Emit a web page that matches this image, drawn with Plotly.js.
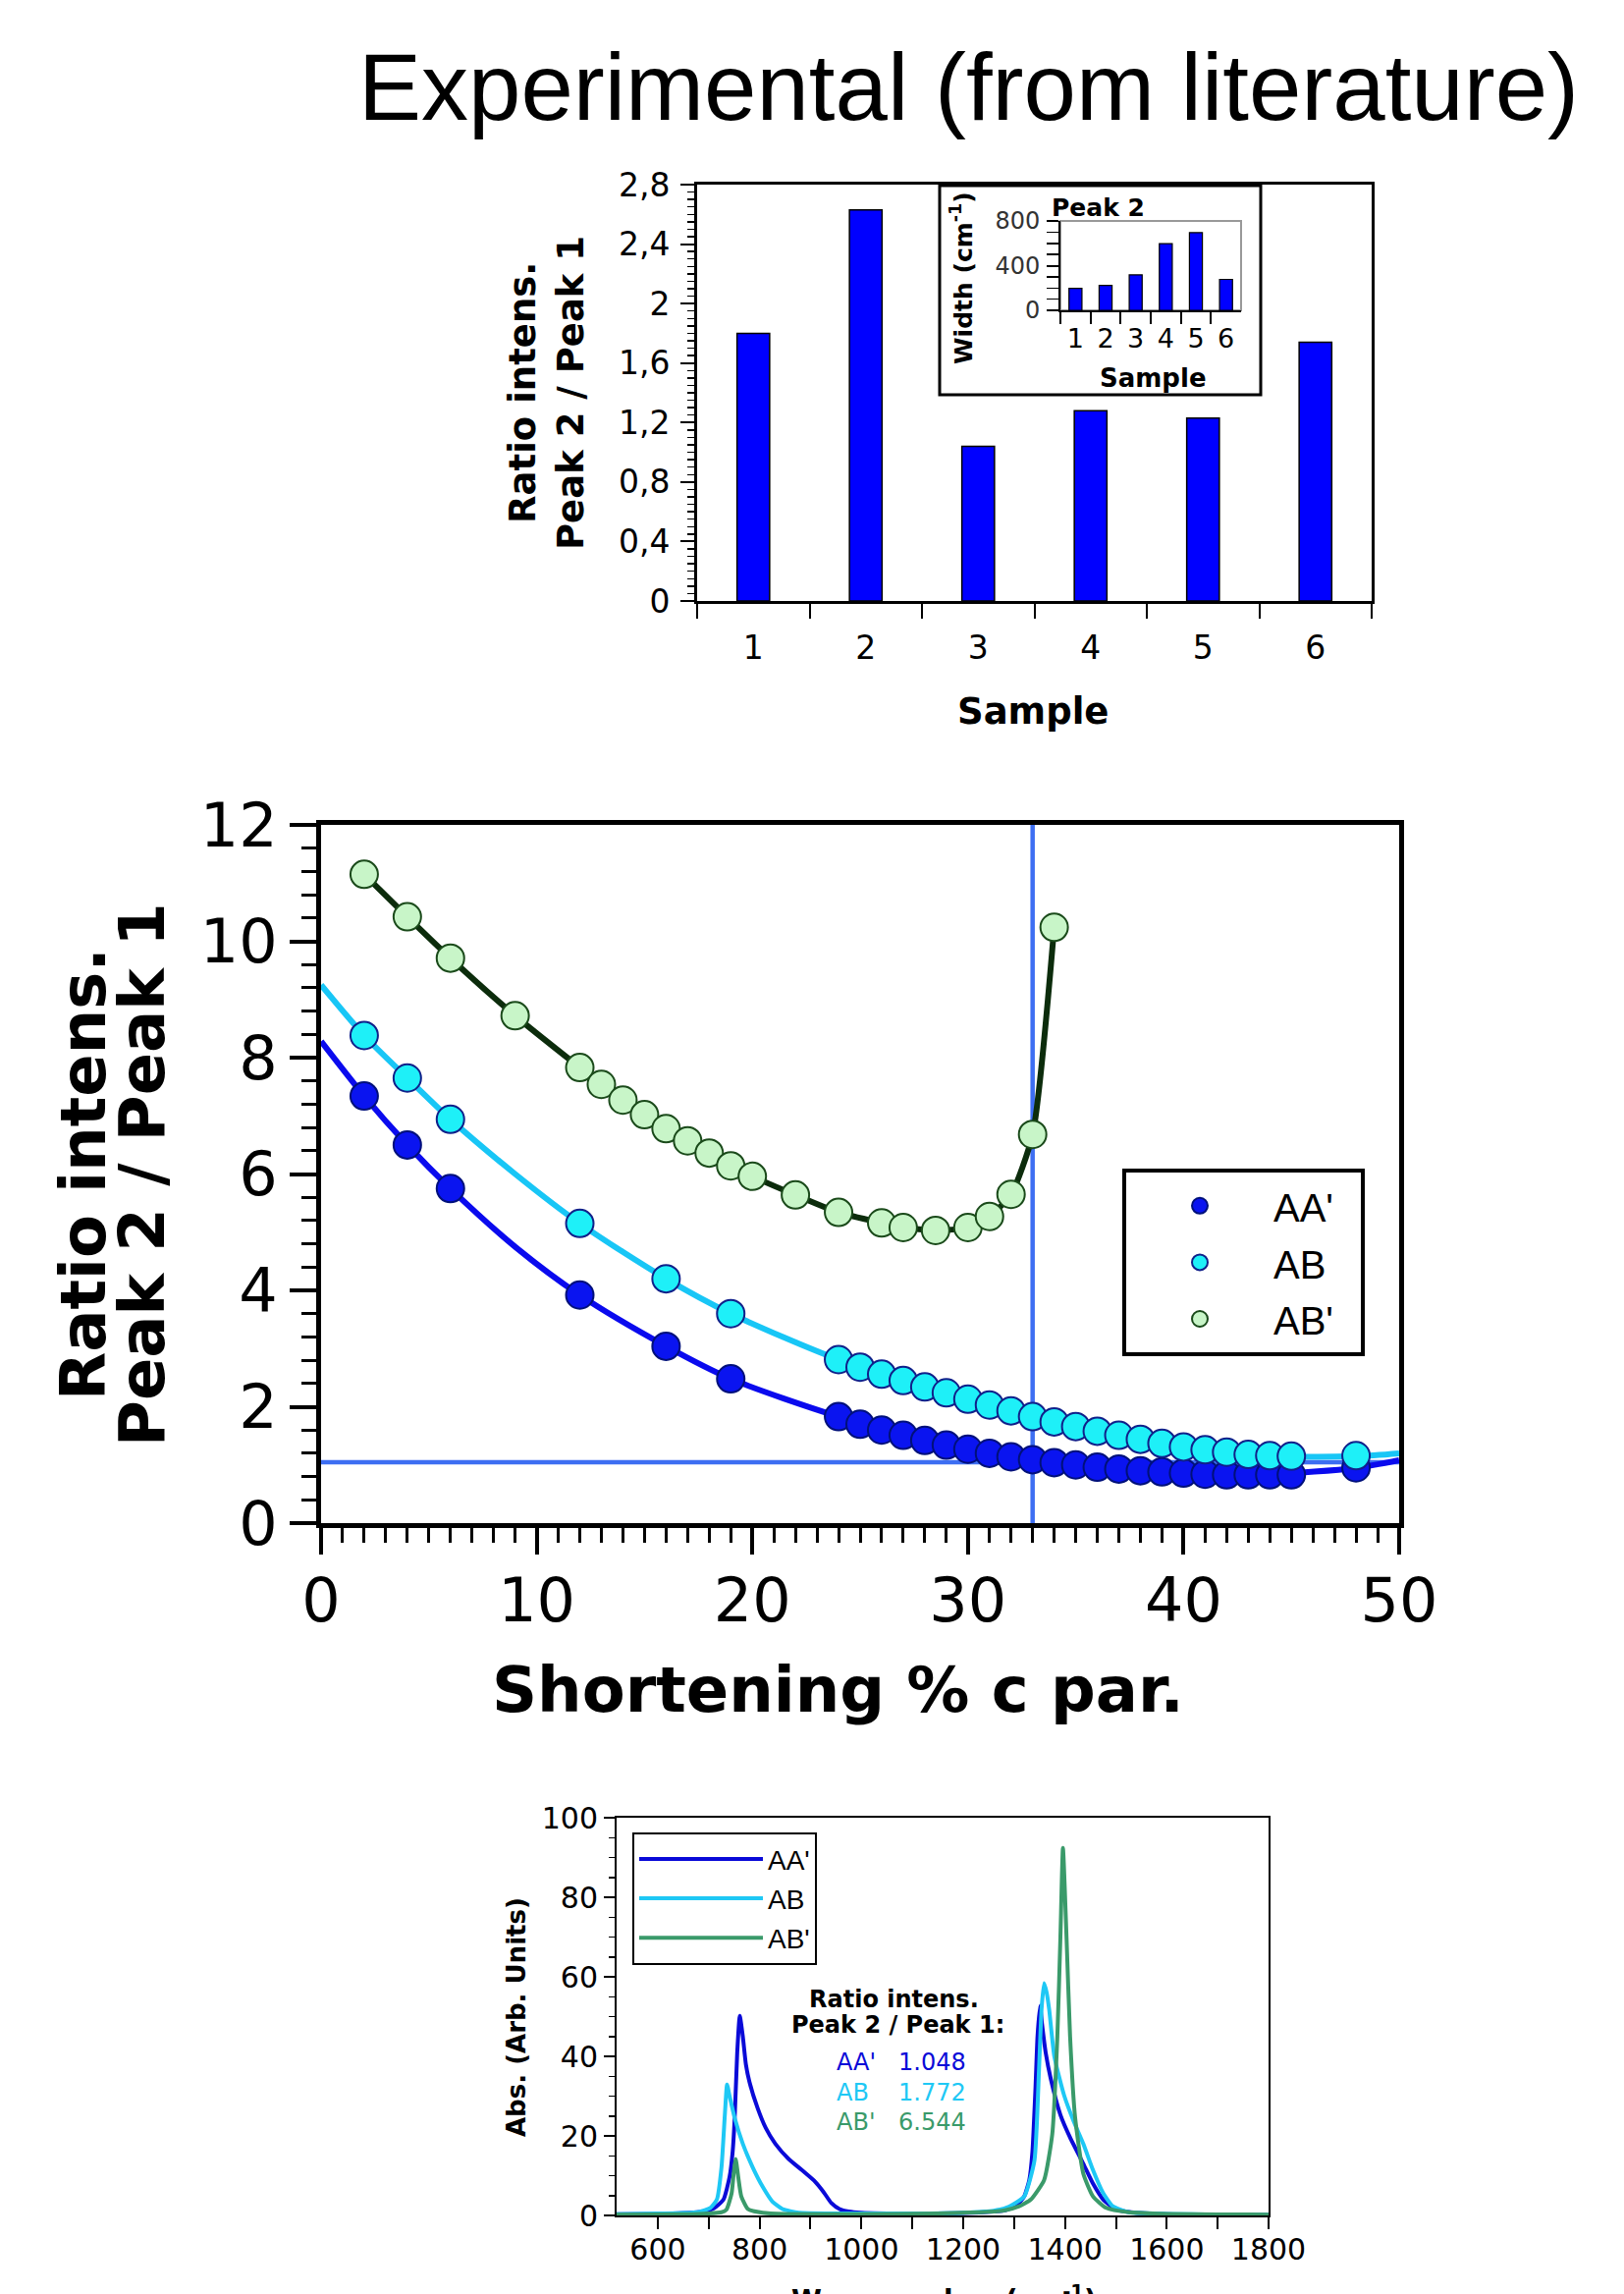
<!DOCTYPE html>
<html><head><meta charset="utf-8">
<script src="https://cdn.plot.ly/plotly-3.0.1.min.js"></script>
<style>html,body{margin:0;padding:0;background:#fff}</style>
</head><body><div id="chart" style="width:1654px;height:2336px"></div>
<script>
// ---------- Top: bar chart (ratio per sample) ----------
const samples = ['1','2','3','4','5','6'];
const ratioPeak2Peak1 = [1.80, 2.63, 1.04, 1.28, 1.23, 1.74];
// ---------- Inset: width of peak 2 ----------
const widthPeak2 = [196, 223, 317, 597, 695, 277];

// ---------- Middle: ratio vs shortening ----------
const aaX = [2,4,6,12,16,19,24,25,26,27,28,29,30,31,32,33,34,35,36,37,38,39,40,41,42,43,44,45,48];
const aaY = [7.34,6.50,5.75,3.92,3.04,2.48,1.83,1.70,1.60,1.51,1.42,1.34,1.27,1.20,1.14,1.09,1.04,1.00,0.96,0.93,0.90,0.88,0.86,0.84,0.83,0.83,0.83,0.83,0.95];
const abX = [2,4,6,12,16,19,24,25,26,27,28,29,30,31,32,33,34,35,36,37,38,39,40,41,42,43,44,45,48];
const abY = [8.38,7.65,6.94,5.15,4.20,3.60,2.81,2.68,2.56,2.45,2.34,2.24,2.13,2.03,1.93,1.83,1.74,1.66,1.58,1.51,1.44,1.37,1.31,1.26,1.22,1.18,1.16,1.15,1.16];
const abpX = [2,4,6,9,12,13,14,15,16,17,18,19,20,22,24,26,27,28.5,30,31,32,33,34];
const abpY = [11.15,10.42,9.71,8.72,7.83,7.54,7.27,7.02,6.78,6.57,6.36,6.14,5.96,5.64,5.34,5.16,5.08,5.03,5.08,5.27,5.65,6.68,10.24];
// fitted curves
const aaFitX = [0,2,4,6,9,12,16,19,24,28,32,36,40,44,48,50];
const aaFitY = [8.28,7.34,6.50,5.75,4.75,3.92,3.04,2.48,1.83,1.42,1.14,0.96,0.86,0.84,0.95,1.08];
const abFitX = [0,2,4,6,9,12,16,19,24,28,32,36,40,44,48,50];
const abFitY = [9.25,8.38,7.65,6.94,6.00,5.15,4.20,3.60,2.81,2.34,1.93,1.58,1.31,1.16,1.15,1.20];
const expRatioAA = 1.048;
const bestShortening = 33;

// ---------- Bottom: spectra ----------
const specAAx = [519,600,650,690,710,729,741,747,751,756,761,767,773,780,796,812,831,857,883,909,925,941,957,975,1000,1100,1200,1260,1282,1305,1320,1330,1336,1342,1346,1351,1355,1362,1372,1391,1410,1436,1455,1475,1500,1530,1600,1700,1800];
const specAAy = [0.3,0.4,0.6,1.0,1.8,4.0,9.7,16,24.5,41,50.2,45,38,33.6,27,22,18,14.2,11.4,8.5,6.0,3.1,1.6,1.0,0.7,0.5,0.6,1.0,1.3,2.5,4.8,9,16,32,45,52.7,48,41,34.4,25.3,19.6,13,8,4,1.5,0.8,0.3,0.15,0.1];
const specABx = [519,600,650,681,703,716,725,732,736,741,751,767,786,806,825,845,877,950,1100,1200,1260,1290,1320,1340,1349,1354,1359,1364,1369,1379,1398,1417,1436,1455,1475,1494,1526,1600,1700,1800];
const specABy = [0.3,0.5,0.6,0.9,1.9,4.0,12,26,32.9,30,24.5,18,12.2,7.2,3.5,1.6,0.7,0.5,0.5,0.7,1.2,2.2,4.8,13.8,36.9,52,58.4,56,51.7,40,30.3,23.7,18,11.4,5.6,2.3,0.8,0.4,0.2,0.15];
const specABpx = [519,650,700,725,735,745,749,753,758,764,777,806,850,1000,1150,1250,1282,1310,1333,1359,1375,1385,1391,1396,1403,1410,1420,1436,1455,1481,1526,1600,1700,1800];
const specABpy = [0.2,0.3,0.5,0.8,1.5,5.6,10.5,14.2,9.7,4.8,1.6,0.7,0.4,0.3,0.5,0.9,1.3,2.3,4.0,8.9,20.4,45,70,92.4,70,45,24.5,10.5,4.8,1.9,0.8,0.4,0.25,0.2];
const ratioLabels = ["AA'", "AB", "AB'"];
const ratioValues = ["1.048", "1.772", "6.544"];

const seriesNames = ["AA'", "AB", "AB'"];
const lineColors = ['#0a0aee', '#18c6f6', '#0c2c0c'];
const specColors = ['#0a0ad8', '#1ec8f5', '#3a9a6a'];

const W = 1654, H = 2336;
const px = v => v / W;
const py = v => 1 - v / H;

const traces = [];
// top bars
traces.push({type:'bar', x:samples, y:ratioPeak2Peak1, xaxis:'x', yaxis:'y', width:0.29,
  marker:{color:'#0000ff', line:{color:'#000', width:1.5}}, showlegend:false, hoverinfo:'x+y'});
// middle fitted lines
traces.push({type:'scatter', mode:'lines', x:aaFitX, y:aaFitY, xaxis:'x2', yaxis:'y2',
  line:{color:lineColors[0], width:6, shape:'spline', smoothing:0.8}, showlegend:false});
traces.push({type:'scatter', mode:'lines', x:abFitX, y:abFitY, xaxis:'x2', yaxis:'y2',
  line:{color:lineColors[1], width:6, shape:'spline', smoothing:0.8}, showlegend:false});
traces.push({type:'scatter', mode:'lines', x:abpX, y:abpY, xaxis:'x2', yaxis:'y2',
  line:{color:lineColors[2], width:6, shape:'spline', smoothing:0.6}, showlegend:false});
// middle markers
const mkStyles = [
  {color:'#0a14f0', line:{color:'#00107a', width:2}},
  {color:'#1ef0f8', line:{color:'#10208a', width:2}},
  {color:'#c8f5c8', line:{color:'#1a4a1a', width:2}}
];
const mX = [aaX, abX, abpX], mY = [aaY, abY, abpY];
for (let i = 0; i < 3; i++) {
  traces.push({type:'scatter', mode:'markers', x:mX[i], y:mY[i], xaxis:'x2', yaxis:'y2',
    name:'<span style="font-size:40px">' + seriesNames[i] + '&nbsp;&nbsp;</span>',
    marker:Object.assign({size:28, symbol:'circle'}, mkStyles[i]), legend:'legend'});
}
// bottom spectra
const sX = [specAAx, specABx, specABpx], sY = [specAAy, specABy, specABpy];
for (let i = 0; i < 3; i++) {
  traces.push({type:'scatter', mode:'lines', x:sX[i], y:sY[i], xaxis:'x3', yaxis:'y3',
    name:'<span style="font-size:28px">' + seriesNames[i] + '</span>',
    line:{color:specColors[i], width:4, shape:'spline', smoothing:0.5}, legend:'legend2'});
}
// inset bars
traces.push({type:'bar', x:samples, y:widthPeak2, xaxis:'x4', yaxis:'y4', width:0.43,
  marker:{color:'#0000ff', line:{color:'#000', width:1.2}}, showlegend:false});

const baseAxis = {showgrid:false, zeroline:false, showline:true, linecolor:'#000', tickcolor:'#000'};

const annotations = [];
function ann(text, x, y, size, opts) {
  annotations.push(Object.assign({text:text, x:px(x), y:py(y), xref:'paper', yref:'paper',
    showarrow:false, xanchor:'center', yanchor:'middle',
    font:{family:'DejaVu Sans', size:size, color:'#000'}}, opts || {}));
}
ann('Experimental (from literature)', 986, 88, 96, {font:{family:'Liberation Sans', size:96, color:'#000'}});
ann('<b>Ratio intens.</b>', 532, 400, 37, {textangle:-90});
ann('<b>Peak 2 / Peak 1</b>', 581, 400, 37, {textangle:-90});
ann('<b>Sample</b>', 1052, 724, 37);
ann('<b>Peak 2</b>', 1118, 212, 25);
ann('<b>Width (cm<sup>-1</sup>)</b>', 979, 283, 25, {textangle:-90});
ann('<b>Sample</b>', 1174, 385, 26);
ann('<b>Ratio intens.</b>', 85, 1196, 64, {textangle:-90});
ann('<b>Peak 2 / Peak 1</b>', 145, 1196, 64, {textangle:-90});
ann('<b>Shortening % c par.</b>', 853, 1721, 64);
ann('<b>Abs. (Arb. Units)</b>', 526, 2054, 26, {textangle:-90});
ann('<b>Wavenumber (cm<sup>-1</sup>)</b>', 961, 2340, 28);
ann('<b>Ratio intens.</b>', 910, 2036, 24);
ann('<b>Peak 2 / Peak 1:</b>', 914, 2062, 24);
const rowY = [2100, 2131, 2161];
for (let i = 0; i < 3; i++) {
  ann(ratioLabels[i], 850, rowY[i], 24, {xanchor:'left', font:{family:'DejaVu Sans', size:24, color:specColors[i]}});
  ann(ratioValues[i], 913, rowY[i], 24, {xanchor:'left', font:{family:'DejaVu Sans', size:24, color:specColors[i]}});
}

const layout = {
  width:W, height:H, margin:{l:0, r:0, t:0, b:0},
  paper_bgcolor:'#ffffff', plot_bgcolor:'rgba(0,0,0,0)',
  separators:',.',
  font:{family:'DejaVu Sans', color:'#000'},
  showlegend:true,
  xaxis:Object.assign({}, baseAxis, {domain:[px(710), px(1397)], anchor:'y', type:'category',
    tickson:'boundaries', ticks:'outside', ticklen:15, tickwidth:2, linewidth:3, mirror:true,
    tickfont:{size:33}, ticklabelstandoff:16}),
  yaxis:Object.assign({}, baseAxis, {domain:[py(612), py(188)], anchor:'x', range:[0, 2.8],
    tick0:0, dtick:0.4, ticks:'outside', ticklen:14, tickwidth:2, linewidth:3, mirror:true,
    minor:{dtick:0.05, ticks:'outside', ticklen:7, tickwidth:1.5, tickcolor:'#000', showgrid:false},
    tickfont:{size:33}, ticklabelstandoff:4}),
  xaxis2:Object.assign({}, baseAxis, {domain:[px(327), px(1425)], anchor:'y2', range:[0, 50],
    tick0:0, dtick:10, ticks:'outside', ticklen:27, tickwidth:4, linewidth:5, mirror:true,
    minor:{dtick:1, ticks:'outside', ticklen:15, tickwidth:3, tickcolor:'#000', showgrid:false},
    tickfont:{size:62}, ticklabelstandoff:-6}),
  yaxis2:Object.assign({}, baseAxis, {domain:[py(1551), py(840)], anchor:'x2', range:[0, 12],
    tick0:0, dtick:2, ticks:'outside', ticklen:27, tickwidth:4, linewidth:5, mirror:true,
    minor:{dtick:0.4, ticks:'outside', ticklen:15, tickwidth:3, tickcolor:'#000', showgrid:false},
    tickfont:{size:62}, ticklabelstandoff:0}),
  xaxis3:Object.assign({}, baseAxis, {domain:[px(628), px(1292)], anchor:'y3', range:[519, 1800],
    tick0:0, dtick:200, ticks:'outside', ticklen:12, tickwidth:2, linewidth:2, mirror:true,
    minor:{dtick:100, ticks:'outside', ticklen:12, tickwidth:2, tickcolor:'#000', showgrid:false},
    tickfont:{size:30}, ticklabelstandoff:-5}),
  yaxis3:Object.assign({}, baseAxis, {domain:[py(2256), py(1851)], anchor:'x3', range:[0, 100],
    tick0:0, dtick:20, ticks:'outside', ticklen:11, tickwidth:2, linewidth:2, mirror:true,
    minor:{dtick:5, ticks:'outside', ticklen:6, tickwidth:1.5, tickcolor:'#000', showgrid:false},
    tickfont:{size:30}, ticklabelstandoff:0}),
  xaxis4:Object.assign({}, baseAxis, {domain:[px(1080), px(1264)], anchor:'y4', type:'category',
    tickmode:'linear', tick0:0, dtick:1,
    tickson:'boundaries', ticks:'outside', ticklen:12, tickwidth:2, linewidth:2, mirror:false,
    tickfont:{size:27}, ticklabelstandoff:4}),
  yaxis4:Object.assign({}, baseAxis, {domain:[py(316), py(225)], anchor:'x4', range:[0, 800],
    tick0:0, dtick:400, ticks:'outside', ticklen:12, tickwidth:2, linewidth:2, mirror:false,
    minor:{dtick:100, ticks:'outside', ticklen:12, tickwidth:1.5, tickcolor:'#000', showgrid:false},
    tickfont:{size:24, color:'#333'}, ticklabelstandoff:2}),
  legend:{x:px(1143), y:py(1190), xanchor:'left', yanchor:'top', bgcolor:'#fff',
    bordercolor:'#000', borderwidth:4, font:{family:'Liberation Sans', size:42, color:'#000'},
    itemwidth:140, tracegroupgap:0},
  legend2:{x:px(644), y:py(1866), xanchor:'left', yanchor:'top', bgcolor:'#fff',
    bordercolor:'#000', borderwidth:2, font:{family:'Liberation Sans', size:28.5, color:'#000'},
    itemwidth:126, tracegroupgap:0},
  shapes:[
    {type:'rect', xref:'paper', yref:'paper', x0:px(957), x1:px(1284), y0:py(402), y1:py(189),
      line:{color:'#000', width:3}, fillcolor:'#fff', layer:'below'},
    {type:'rect', xref:'x4 domain', yref:'y4 domain', x0:0, x1:1, y0:0, y1:1,
      line:{color:'#999', width:2}, layer:'below'},
    {type:'line', xref:'x2 domain', yref:'y2', x0:0, x1:1, y0:expRatioAA, y1:expRatioAA,
      line:{color:'#3d6ef2', width:4.5}, layer:'below'},
    {type:'line', xref:'x2', yref:'y2 domain', x0:bestShortening, x1:bestShortening, y0:0, y1:1,
      line:{color:'#3d6ef2', width:4.5}, layer:'below'}
  ],
  annotations:annotations
};

Plotly.newPlot('chart', traces, layout, {staticPlot:true, displayModeBar:false});
</script>
</body></html>
